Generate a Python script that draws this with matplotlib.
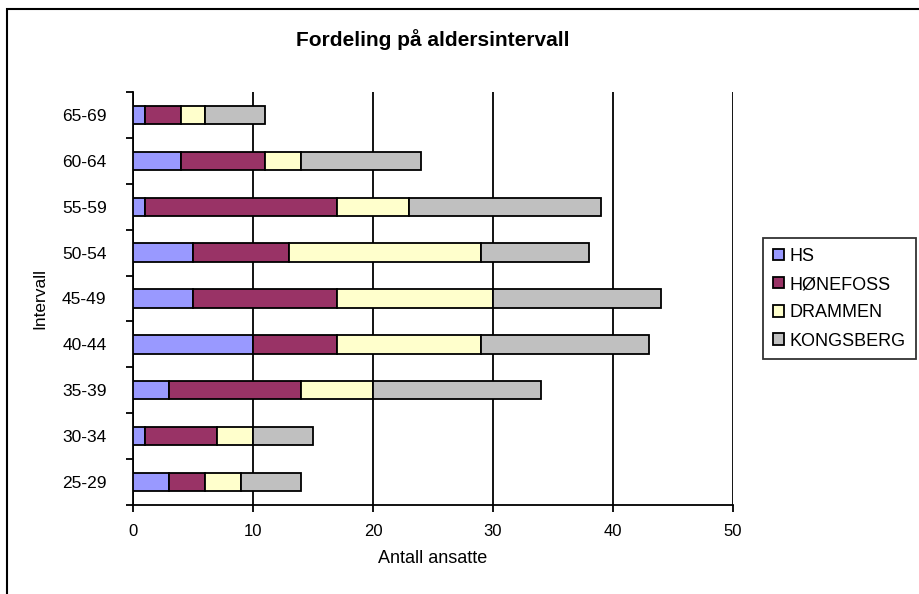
import matplotlib
matplotlib.use("Agg")
import numpy as np
from matplotlib import pyplot as plt
from matplotlib.patches import Rectangle

# age groups, bottom to top
intervals = ["25-29", "30-34", "35-39", "40-44", "45-49", "50-54", "55-59", "60-64", "65-69"]

hs = [3, 1, 3, 10, 5, 5, 1, 4, 1]
honefoss = [3, 6, 11, 7, 12, 8, 16, 7, 3]
drammen = [3, 3, 6, 12, 13, 16, 6, 3, 2]
kongsberg = [5, 5, 14, 14, 14, 9, 16, 10, 5]

series_names = ["HS", "HØNEFOSS", "DRAMMEN", "KONGSBERG"]
series_colors = ["#9999FF", "#993366", "#FFFFCC", "#C0C0C0"]
x_ticks = [0, 10, 20, 30, 40, 50]

plt.rcParams["font.family"] = ["Liberation Sans", "DejaVu Sans"]

fig = plt.figure(figsize=(9.19, 5.94), dpi=100)
ax = fig.add_axes([133 / 919, 1 - 505 / 594, 600 / 919, 413 / 594])

y = np.arange(len(intervals))
left = np.zeros(len(intervals))
for name, vals, color in zip(series_names, [hs, honefoss, drammen, kongsberg], series_colors):
    ax.barh(y, vals, left=left, height=0.4, color=color, edgecolor="black",
            linewidth=1.3, label=name, zorder=3)
    left += np.array(vals)

ax.set_xlim(0, 50)
ax.set_ylim(-0.5, len(intervals) - 0.5)
ax.set_xticks(x_ticks)
ax.set_yticks(y)
ax.set_yticklabels(intervals)
ax.set_yticks(np.arange(-0.5, len(intervals), 1.0), minor=True)
ax.tick_params(axis="y", which="major", length=0, pad=19, labelsize=12.5)
ax.tick_params(axis="y", which="minor", length=5, width=1.3, direction="out")
ax.tick_params(axis="x", length=5, width=1.3, direction="out", pad=9, labelsize=12)

ax.grid(axis="x", color="black", linewidth=1.3, zorder=0)
for side in ["top", "right"]:
    ax.spines[side].set_visible(False)
ax.spines["left"].set_linewidth(1.3)
ax.spines["bottom"].set_linewidth(1.3)

ax.set_xlabel("Antall ansatte", fontsize=13)
ax.set_ylabel("Intervall", fontsize=12.5)
ax.xaxis.set_label_coords(0.5, -0.11)
ax.yaxis.set_label_coords(-0.143, 0.5)
fig.text(433 / 919, 1 - 40 / 594, "Fordeling på aldersintervall",
         ha="center", va="center", fontsize=15, fontweight="bold",
         family=["Liberation Sans Narrow", "Liberation Sans", "DejaVu Sans"])

leg = fig.legend(loc="upper left", bbox_to_anchor=(763 / 919, 1 - 238 / 594),
                 fontsize=13, frameon=True, fancybox=False, edgecolor="black",
                 handlelength=0.6, handleheight=0.6, handletextpad=0.33,
                 borderpad=0.55, labelspacing=0.62, borderaxespad=0)
leg.get_frame().set_linewidth(1.3)

# outer chart border
fig.patches.append(Rectangle((7 / 919, -0.02), 1.05, 1 - 9 / 594 + 0.02,
                             transform=fig.transFigure, fill=False,
                             edgecolor="black", linewidth=1.5, clip_on=False))

fig.savefig("out.png", dpi=100)
